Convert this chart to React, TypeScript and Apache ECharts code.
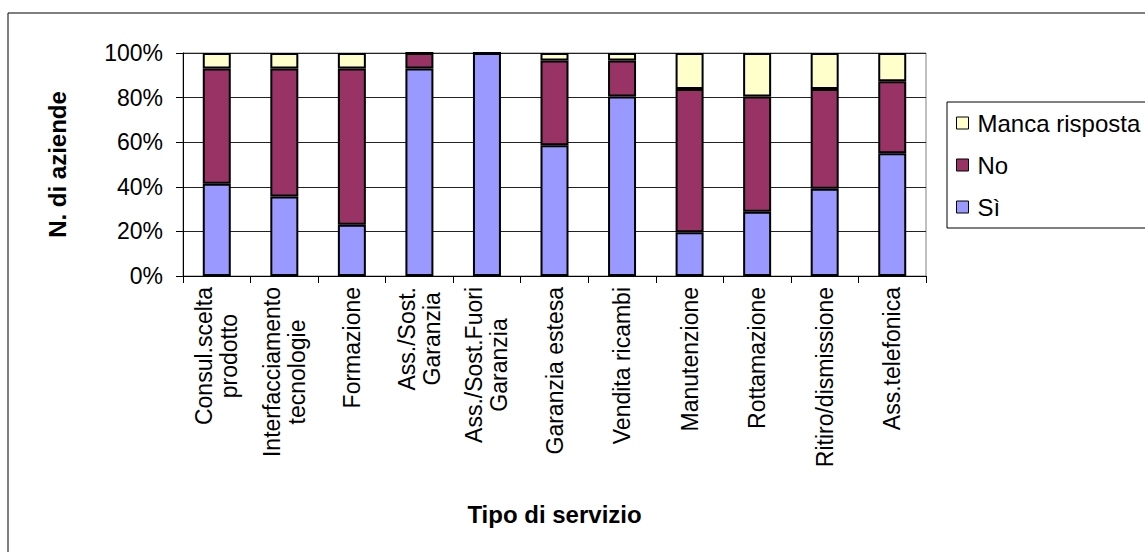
import React, { useEffect, useRef } from "react";
import * as echarts from "echarts";

const categories: string[] = [
  "Consul.scelta\nprodotto",
  "Interfacciamento\ntecnologie",
  "Formazione",
  "Ass./Sost.\nGaranzia",
  "Ass./Sost.Fuori\nGaranzia",
  "Garanzia estesa",
  "Vendita ricambi",
  "Manutenzione",
  "Rottamazione",
  "Ritiro/dismissione",
  "Ass.telefonica",
];

const si: number[] = [41.4, 35.7, 23.0, 93.1, 100, 58.6, 80.5, 19.6, 28.8, 39.1, 55.1];
const no: number[] = [51.7, 57.4, 70.1, 6.9, 0, 38.0, 16.1, 64.3, 51.7, 44.8, 32.2];
const manca: number[] = [6.9, 6.9, 6.9, 0, 0, 3.4, 3.4, 16.1, 19.5, 16.1, 12.7];

const seriesNames = { si: "Sì", no: "No", manca: "Manca risposta" };
const colors = { si: "#9999FF", no: "#993366", manca: "#FFFFCC" };

const FONT = "'Liberation Sans', Arial, sans-serif";

export default function App() {
  const ref = useRef<HTMLDivElement>(null);

  useEffect(() => {
    if (!ref.current) return;
    const chart = echarts.init(ref.current, null, { renderer: "svg" });
    const barStyle = (color: string) => ({
      color,
      borderColor: "#000",
      borderWidth: 2,
    });
    chart.setOption({
      animation: false,
      backgroundColor: "#fff",
      textStyle: { fontFamily: FONT, color: "#000" },
      graphic: [
        {
          type: "rect",
          shape: { x: 8, y: 13, width: 1300, height: 700 },
          style: { fill: "none", stroke: "#000", lineWidth: 1 },
          silent: true,
          z: -10,
        },
      ],
      grid: {
        left: 183,
        top: 53,
        right: 219,
        bottom: 276,
        show: true,
        borderColor: "#808080",
        borderWidth: 1,
        backgroundColor: "transparent",
      },
      legend: {
        orient: "vertical",
        left: 947,
        top: 102,
        data: [seriesNames.manca, seriesNames.no, seriesNames.si],
        itemWidth: 12,
        itemHeight: 12,
        itemGap: 18,
        padding: [9, 40, 9, 9],
        borderColor: "#000",
        borderWidth: 1,
        backgroundColor: "#fff",
        icon: "rect",
        itemStyle: { borderColor: "#000", borderWidth: 1 },
        textStyle: {
          fontFamily: FONT,
          fontSize: 24,
          color: "#000",
          lineHeight: 22,
          padding: [0, 0, 0, 4],
        },
      },
      xAxis: {
        type: "category",
        data: categories,
        name: "Tipo di servizio",
        nameLocation: "middle",
        nameGap: 226,
        nameTextStyle: { fontFamily: FONT, fontSize: 24, fontWeight: "bold", color: "#000" },
        axisLine: { lineStyle: { color: "#000", width: 1 } },
        axisTick: { show: true, length: 7, alignWithLabel: false, lineStyle: { color: "#000" } },
        axisLabel: {
          interval: 0,
          rotate: 90,
          margin: 11,
          color: "#000",
          fontFamily: FONT,
          fontSize: 23,
          lineHeight: 25,
          formatter: (v: string) =>
            v
              .split("\n")
              .map((s) => "{c|" + s + "}")
              .join("\n"),
          rich: {
            c: {
              align: "center",
              fontFamily: FONT,
              fontSize: 23,
              lineHeight: 25,
              color: "#000",
            },
          },
        },
      },
      yAxis: {
        type: "value",
        min: 0,
        max: 100,
        interval: 20,
        name: "N. di aziende",
        nameLocation: "middle",
        nameRotate: 90,
        nameGap: 114,
        nameTextStyle: { fontFamily: FONT, fontSize: 24, fontWeight: "bold", color: "#000" },
        axisLine: { show: true, lineStyle: { color: "#000", width: 1 } },
        axisTick: { show: true, length: 7, lineStyle: { color: "#000" } },
        axisLabel: {
          formatter: "{value}%",
          margin: 20,
          color: "#000",
          fontFamily: FONT,
          fontSize: 23,
        },
        splitLine: { show: true, lineStyle: { color: "#222", width: 1 } },
      },
      series: [
        {
          name: seriesNames.si,
          type: "bar",
          stack: "tot",
          data: si,
          barWidth: 28,
          itemStyle: barStyle(colors.si),
        },
        {
          name: seriesNames.no,
          type: "bar",
          stack: "tot",
          data: no,
          barWidth: 28,
          itemStyle: barStyle(colors.no),
        },
        {
          name: seriesNames.manca,
          type: "bar",
          stack: "tot",
          data: manca,
          barWidth: 28,
          itemStyle: barStyle(colors.manca),
        },
      ],
    });
    return () => chart.dispose();
  }, []);

  return (
    <div
      ref={ref}
      style={{ position: "absolute", left: 0, top: 0, width: 1145, height: 552 }}
    />
  );
}
